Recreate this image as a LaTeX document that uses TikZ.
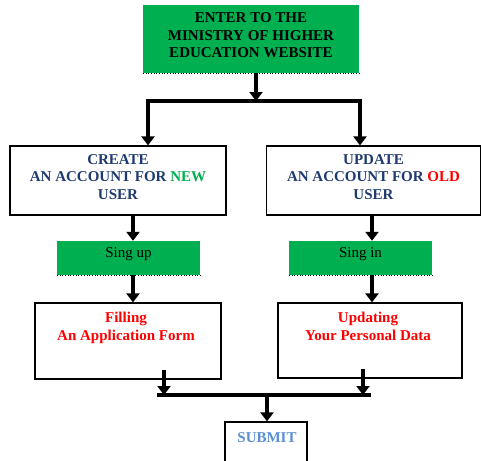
\documentclass[tikz,border=0pt]{standalone}
\usepackage{fontspec}
\setmainfont{Liberation Serif}
\usetikzlibrary{arrows.meta,calc}
\definecolor{grn}{HTML}{00B050}
\definecolor{navytxt}{HTML}{1F3A70}
\definecolor{redtxt}{HTML}{FF0000}
\definecolor{subtxt}{HTML}{5A8FD6}
\begin{document}
\begin{tikzpicture}[x=1pt,y=-1pt,
  txt/.style={font=\fontsize{15}{17.5}\selectfont, align=center, inner sep=0pt},
  greenbox/.style={txt, fill=grn, draw=none},
  whitebox/.style={txt, draw=black, line width=1.2pt, fill=white},
  flow/.style={line width=3.2pt, -{Triangle[width=13pt,length=9pt]}},
  joinline/.style={line width=3.2pt, line cap=rect},
  edgedots/.style={dotted, line width=0.7pt}]
\useasboundingbox (0,0) rectangle (481,460);
\clip (0,0) rectangle (481,460);

% top box
\node[greenbox, minimum width=216pt, minimum height=68pt] (enter) at (251,39)
  {\bfseries ENTER TO THE\\\bfseries MINISTRY OF HIGHER\\\bfseries EDUCATION WEBSITE\\[-10pt]};
\draw[edgedots] (enter.south west) -- (enter.south east);

% account boxes
\node[whitebox, minimum width=216pt, minimum height=69pt, text=navytxt] (create) at (118,180.5)
  {\bfseries CREATE\\\bfseries AN ACCOUNT FOR \textcolor{grn}{NEW}\\\bfseries USER\\[-10.5pt]};
\node[whitebox, minimum width=214pt, minimum height=69pt, text=navytxt] (update) at (373.5,180.5)
  {\bfseries UPDATE\\\bfseries AN ACCOUNT FOR \textcolor{redtxt}{OLD}\\\bfseries USER\\[-10.5pt]};

% sign boxes
\node[greenbox, minimum width=143pt, minimum height=34pt] (signup) at (128.5,258) {Sing up\\[-6pt]};
\node[greenbox, minimum width=143pt, minimum height=34pt] (signin) at (360.5,258) {Sing in\\[-6pt]};
\draw[edgedots] (signup.south west) -- (signup.south east);
\draw[edgedots] (signin.south west) -- (signin.south east);

% form boxes
\node[whitebox, minimum width=186pt, minimum height=76pt] (filling) at (128,341) {};
\node[txt, text=redtxt, anchor=north] (fillingtext) at ($(filling.north)+(-2,9.5)$)
  {\bfseries Filling\\\bfseries An Application Form};
\node[whitebox, minimum width=184pt, minimum height=75pt] (updating) at (370,340.5) {};
\node[txt, text=redtxt, anchor=north] (updatingtext) at ($(updating.north)+(-2,9.5)$)
  {\bfseries Updating\\\bfseries Your Personal Data};

% submit
\node[whitebox, minimum width=82pt, minimum height=48pt] (submit) at (266,446) {};
\node[txt, text=subtxt, anchor=north] (submittext) at ($(submit.north)+(1,11)$) {\bfseries SUBMIT};

% connectors: top split
\coordinate (split) at (256,101);
\coordinate (splitL) at (148,101);
\coordinate (splitR) at (360,101);
\draw[flow] (split |- enter.south) -- (split);
\draw[joinline] (splitL) -- (splitR);
\draw[flow] (splitL) -- (splitL |- create.north);
\draw[flow] (splitR) -- (splitR |- update.north);

% columns
\coordinate (colL) at (133,0);
\coordinate (colR) at (372,0);
\draw[flow] (colL |- create.south) -- (colL |- signup.north);
\draw[flow] (colR |- update.south) -- (colR |- signin.north);
\draw[flow] (colL |- signup.south) -- (colL |- filling.north);
\draw[flow] (colR |- signin.south) -- (colR |- updating.north);

% bottom join
\coordinate (jL) at (164,395);
\coordinate (jR) at (363,395);
\coordinate (jM) at (267,395);
\draw[joinline] ($(jL)+(-5,0)$) -- ($(jR)+(6,0)$);
\draw[flow] ($(jL |- filling.south)+(0,-10)$) -- (jL);
\draw[flow] ($(jR |- updating.south)+(0,-10)$) -- (jR);
\draw[flow] (jM) -- (jM |- submit.north);
\end{tikzpicture}
\end{document}
